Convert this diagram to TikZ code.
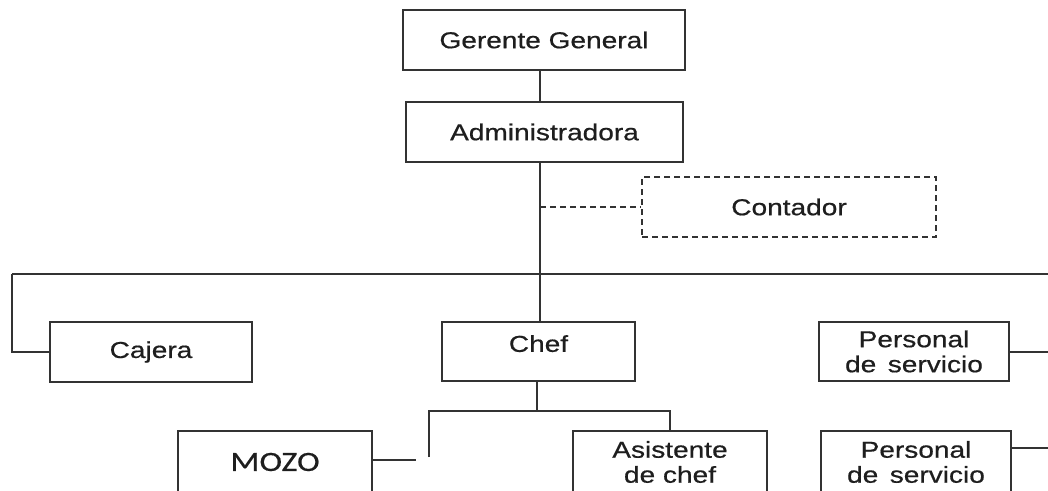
\documentclass[tikz,border=0pt]{standalone}
\usepackage{fontspec}
\setmainfont[FakeStretch=1.22,FakeBold=0.6]{Liberation Sans}
\newfontfamily\mozofont[FakeStretch=1.22,FakeBold=0.4]{Carlito}
\definecolor{ln}{HTML}{333333}
\definecolor{tx}{HTML}{1E1E1E}
\tikzset{
  box/.style={draw=ln, line width=1.5pt, rectangle, inner sep=0pt, align=center,
    text=tx, font=\fontsize{23}{25}\selectfont},
  dbox/.style={box, dashed, dash pattern=on 6pt off 4pt},
  wire/.style={draw=ln, line width=1.5pt},
  dwire/.style={wire, dash pattern=on 6pt off 4pt}
}
\begin{document}
\begin{tikzpicture}[x=1pt,y=1pt]
\useasboundingbox (0,0) rectangle (1048,-490);
\clip (0,0) rectangle (1048,-490);
\fill[white] (0,0) rectangle (1048,-490);
% boxes
\node[box, minimum width=282, minimum height=60] (gg) at (544,-40) {Gerente General};
\node[box, minimum width=277, minimum height=60] (adm) at (544.5,-132) {Administradora};
\node[dbox, minimum width=294, minimum height=60] (cont) at (789,-207) {Contador};
\node[box, minimum width=202, minimum height=60] (caj) at (151,-352) {Cajera};
\node[box, minimum width=193, minimum height=59] (chef) at (538.5,-351.5) {\raisebox{16pt}{Chef}};
\node[box, minimum width=190, minimum height=59] (ps1) at (914,-351.5) {Personal\\de\hspace{0.5em}servicio};
\node[box, minimum width=194, minimum height=62, font=\mozofont\fontsize{28}{30}\selectfont] (mozo) at (275,-462) {MOZO};
\node[box, minimum width=194, minimum height=62] (asis) at (670,-462) {Asistente\\de chef};
\node[box, minimum width=190, minimum height=62] (ps2) at (916,-462) {Personal\\de\hspace{0.5em}servicio};
% coordinates
\coordinate (t) at (540,-274);
\coordinate (busL) at (12,-274);
\coordinate (busR) at (1052,-274);
\coordinate (cb) at (537,-411);
\coordinate (cL) at (429,-411);
\coordinate (cR) at (670,-411);
\coordinate (cLd) at (429,-457);
\coordinate (mz) at (416,-460);
\coordinate (r1) at (1052,-352);
\coordinate (r2) at (1052,-448);
% connectors
\draw[wire] (gg.south -| t) -- (adm.north -| t);
\draw[wire] (adm.south -| t) -- (t);
\draw[dwire] (t |- cont.west) -- (cont.west);
\draw[wire] (busL) -- (busR);
\draw[wire] (busL) -- (busL |- caj.west) -- (caj.west);
\draw[wire] (t) -- (t |- chef.north);
\draw[wire] (chef.south -| cb) -- (cb);
\draw[wire] (cLd) -- (cL) -- (cR) -- (cR |- asis.north);
\draw[wire] (mozo.east |- mz) -- (mz);
\draw[wire] (ps1.east |- r1) -- (r1);
\draw[wire] (ps2.east |- r2) -- (r2);
\end{tikzpicture}
\end{document}
